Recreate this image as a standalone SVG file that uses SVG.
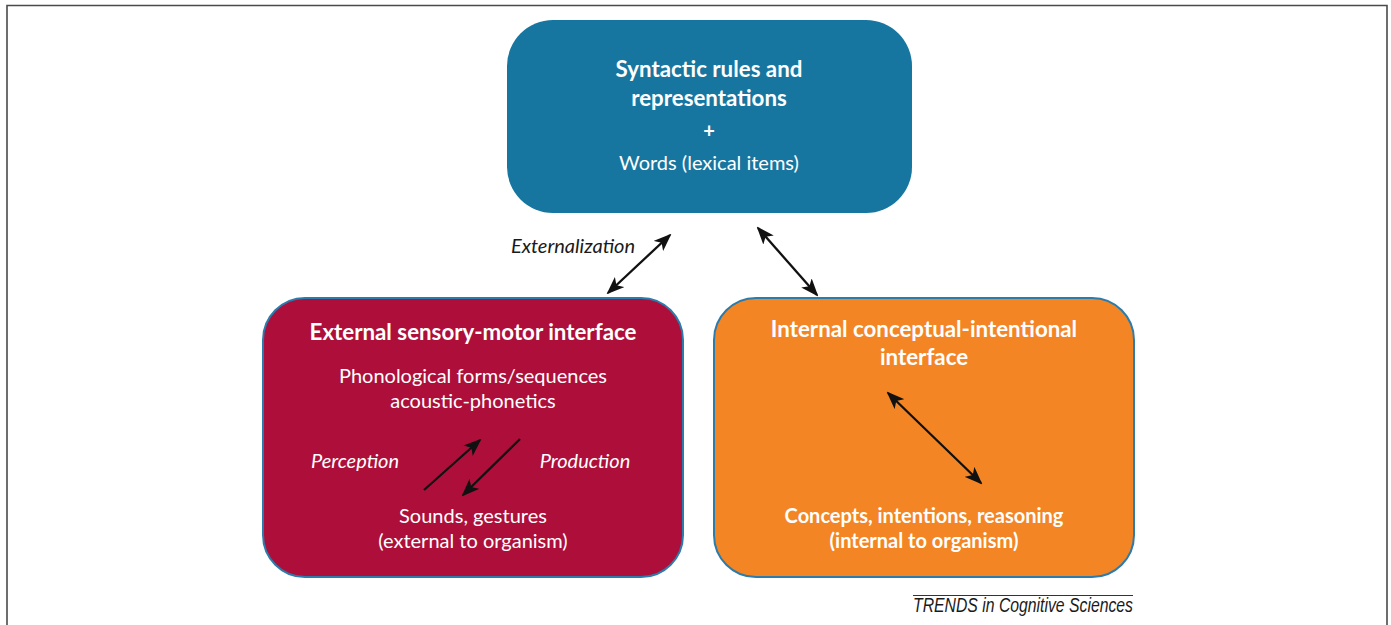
<svg xmlns="http://www.w3.org/2000/svg" width="1391" height="625" viewBox="0 0 1391 625">
<style>
text{font-family:Lato,"Open Sans","Liberation Sans",sans-serif;fill:#fff;text-anchor:middle;font-size:20px}
.b{font-weight:bold}
.h{font-weight:bold;font-size:22.3px}
.i{font-style:italic}
.k{fill:#1a1a1a}
.c{stroke:#111;stroke-width:2.3;fill:none}
</style>
<defs>
<marker id="ah" viewBox="0 0 18 14" refX="16" refY="7" markerWidth="18" markerHeight="14" markerUnits="userSpaceOnUse" orient="auto-start-reverse">
<path d="M0,0 L18,7 L0,14 L4.5,7 z" fill="#111"/>
</marker>
</defs>
<rect width="1391" height="625" fill="#fff"/>
<path d="M7,625 V5.5 H1387 V625" fill="none" stroke="#4a4a4a" stroke-width="1.6"/>
<g id="syntax">
<rect x="507" y="20" width="405" height="193" rx="46" fill="#17769f"/>
<text x="709" y="77" class="h">Syntactic rules and</text>
<text x="709" y="106" class="h">representations</text>
<text x="709" y="138" class="b" font-size="18">+</text>
<text x="709" y="170">Words (lexical items)</text>
</g>
<g id="sensorimotor">
<rect x="263" y="298" width="420" height="279" rx="42" fill="#ad0f3a" stroke="#2b7bab" stroke-width="2"/>
<text x="473" y="340" class="h">External sensory-motor interface</text>
<text x="473" y="383">Phonological forms/sequences</text>
<text x="473" y="408">acoustic-phonetics</text>
<text x="355" y="468" class="i">Perception</text>
<text x="585" y="468" class="i">Production</text>
<text x="473" y="523">Sounds, gestures</text>
<text x="473" y="548">(external to organism)</text>
</g>
<g id="conceptual">
<rect x="714" y="298" width="420" height="279" rx="42" fill="#f48525" stroke="#2b7bab" stroke-width="2"/>
<text x="924" y="337" class="h">Internal conceptual-intentional</text>
<text x="924" y="365" class="h">interface</text>
<text x="924" y="523" class="b">Concepts, intentions, reasoning</text>
<text x="924" y="548" class="b">(internal to organism)</text>
</g>
<g id="connectors">
<line x1="608" y1="293" x2="670" y2="235" class="c" marker-start="url(#ah)" marker-end="url(#ah)"/>
<line x1="758" y1="228" x2="817" y2="295" class="c" marker-start="url(#ah)" marker-end="url(#ah)"/>
<line x1="424" y1="490" x2="480" y2="440" class="c" marker-end="url(#ah)"/>
<line x1="520" y1="439" x2="463" y2="495" class="c" marker-end="url(#ah)"/>
<line x1="888" y1="393" x2="981" y2="483" class="c" marker-start="url(#ah)" marker-end="url(#ah)"/>
</g>
<text x="573" y="253" class="i k" font-size="19">Externalization</text>
<g id="footer">
<line x1="913" y1="595.5" x2="1133" y2="595.5" stroke="#333" stroke-width="1"/>
<text x="1023" y="612" class="i k" font-size="14" textLength="220" lengthAdjust="spacingAndGlyphs" style="font-family:'Liberation Sans',Arial,sans-serif">TRENDS in Cognitive Sciences</text>
</g>
</svg>
